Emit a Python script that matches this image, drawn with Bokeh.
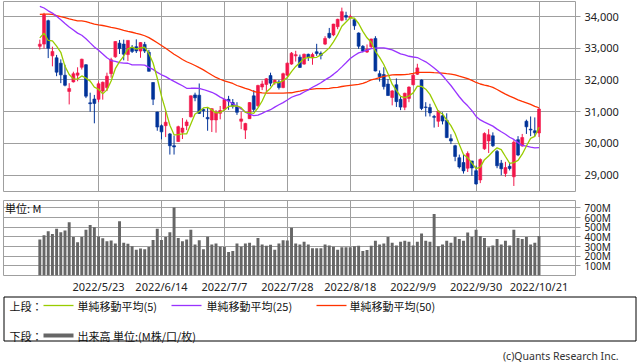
from bokeh.plotting import figure
from bokeh.models import Range1d, FixedTicker, NumeralTickFormatter, Label, ColumnDataSource
from bokeh.layouts import column
from bokeh.core.properties import value
from bokeh.embed import file_html
from bokeh.resources import INLINE

# ---- data (trading-day index 0 = 2022/5/3 ... 119 = 2022/10/21) ----
tick_idx = [14, 29, 44, 59, 74, 89, 104, 119]
tick_labels = ["2022/5/23", "2022/6/14", "2022/7/7", "2022/7/28",
               "2022/8/18", "2022/9/9", "2022/9/30", "2022/10/21"]
price_ticks = [29000, 30000, 31000, 32000, 33000, 34000]
vol_ticks = [100, 200, 300, 400, 500, 600, 700]
vol_tick_labels = ["100M", "200M", "300M", "400M", "500M", "600M", "700M"]

# closes of the 49 sessions before the first candle (moving-average history)
prior_close = [33597, 33132, 33224, 34059, 33893, 33295, 33891, 33795, 33615, 32817,
               32633, 33286, 33174, 32944, 32945, 33544, 34063, 34481, 34755, 34553,
               34807, 34359, 34708, 34861, 34956, 35294, 35229, 34678, 34818, 34922,
               34641, 34497, 34584, 34721, 34308, 34220, 34565, 34451, 34412, 34911,
               35161, 34793, 33811, 34049, 33240, 33302, 34161, 32977, 33062]

opens = [33060, 33130, 33870, 32760, 32700, 32530, 32150, 31640, 31940, 32150,
         32400, 32480, 31280, 31400, 31390, 31650, 31760, 32200, 32730, 33160,
         33130, 32800, 33030, 33050, 32910, 33120, 32870, 31920, 30990, 30560,
         30560, 30300, 29930, 30060, 30350, 30560, 30840, 31530, 31520, 31070,
         30820, 30740, 30740, 30950, 31080, 31390, 31290, 31160, 30700, 30420,
         30780, 31500, 31190, 31780, 31860, 32140, 31910, 31940, 31760, 32150,
         32500, 32760, 32720, 32500, 32810, 32700, 32890, 32840, 33130, 33470,
         33420, 33680, 33880, 34030, 33960, 33900, 33480, 33060, 32880, 33050,
         33310, 32200, 32170, 31870, 31450, 31850, 31390, 31140, 31420, 31850,
         32180, 32000, 31150, 31130, 30850, 30700, 30870, 30730, 30150, 29930,
         29550, 29400, 29220, 29450, 29140, 28850, 29830, 30080, 30240, 29750,
         29380, 29050, 29280, 28950, 30120, 29920, 30700, 30450, 30400, 30330]

highs = [33270, 34117, 33900, 33050, 32790, 32650, 32480, 31900, 32260, 32400,
         32670, 32500, 31600, 31530, 31950, 31950, 32230, 32700, 33220, 33260,
         33270, 33250, 33100, 33280, 33190, 33200, 32950, 31930, 31000, 30600,
         31000, 30330, 30250, 30560, 30800, 30750, 31510, 31600, 31890, 31100,
         31120, 31110, 31050, 31180, 31400, 31500, 31400, 31300, 31000, 30650,
         31300, 31680, 31850, 31980, 32060, 32230, 32010, 32000, 32230, 32550,
         32880, 32920, 32800, 32830, 32830, 32860, 33140, 32900, 33380, 33640,
         33770, 33930, 34280, 34150, 34060, 33930, 33500, 33100, 33120, 33300,
         33380, 32300, 32400, 32030, 31680, 32050, 31500, 31600, 31800, 32200,
         32510, 32020, 31300, 31250, 30900, 31050, 30980, 30950, 30290, 29960,
         29650, 29650, 29750, 29450, 29300, 29530, 30350, 30450, 30350, 29800,
         29480, 29420, 29400, 30100, 30230, 30300, 30750, 30850, 30820, 31120]

lows = [32960, 32990, 32690, 32430, 32120, 31900, 31800, 31230, 31920, 31960,
        32330, 31430, 31000, 30635, 31300, 31380, 31650, 32070, 32700, 32820,
        32620, 32600, 32850, 32850, 32700, 32850, 32270, 31210, 30400, 30130,
        30200, 29650, 29650, 30050, 30140, 30420, 30820, 31330, 30930, 30830,
        30400, 30360, 30340, 30760, 31040, 31060, 31100, 30900, 30450, 30140,
        30780, 31000, 31150, 31680, 31600, 31800, 31850, 31700, 31740, 32100,
        32480, 32580, 32380, 32480, 32600, 32480, 32760, 32650, 33100, 33300,
        33380, 33600, 33850, 33880, 33940, 33580, 32980, 32870, 32850, 32990,
        32270, 31950, 31700, 31500, 31200, 31150, 31050, 31050, 31300, 31830,
        32160, 31050, 30850, 30850, 30500, 30520, 30600, 30170, 29980, 29440,
        29210, 29050, 29100, 28980, 28700, 28750, 29800, 29700, 29890, 29220,
        29000, 28950, 29150, 28660, 29600, 29900, 30300, 30230, 30230, 30200]

closes = [33129, 34061, 32998, 32899, 32246, 32161, 31834, 31730, 32197, 32223,
          32655, 31490, 31253, 31262, 31880, 31929, 32120, 32637, 33213, 32990,
          32813, 33248, 32900, 32916, 33180, 32911, 32273, 31393, 30517, 30365,
          30669, 29927, 29889, 30530, 30483, 30677, 31501, 31438, 30947, 31029,
          30775, 31097, 30968, 31038, 31385, 31338, 31174, 30981, 30773, 30630,
          31288, 31073, 31827, 31875, 32037, 31899, 31990, 31762, 32198, 32530,
          32845, 32798, 32396, 32813, 32727, 32803, 32833, 32774, 33310, 33337,
          33761, 33912, 34152, 33980, 33999, 33707, 33064, 32910, 32969, 33292,
          32283, 32099, 31791, 31510, 31656, 31318, 31145, 31581, 31775, 32152,
          32381, 31105, 31135, 30962, 30822, 31020, 30706, 30184, 30077, 29590,
          29261, 29135, 29684, 29226, 28726, 29491, 30316, 30274, 29927, 29297,
          29203, 29239, 29211, 30039, 29635, 30186, 30524, 30424, 30334, 31083]

volume_m = [372, 417, 459, 430, 484, 449, 465, 551, 398, 344,
            398, 475, 523, 500, 404, 385, 356, 362, 331, 561,
            340, 328, 302, 267, 280, 273, 296, 369, 484, 369,
            398, 449, 705, 388, 356, 372, 475, 321, 366, 273,
            401, 321, 331, 299, 296, 244, 254, 331, 299, 331,
            340, 312, 388, 321, 309, 318, 267, 331, 366, 362,
            494, 331, 321, 350, 321, 283, 283, 283, 321, 312,
            299, 267, 292, 292, 292, 302, 308, 254, 264, 308,
            360, 321, 331, 398, 340, 312, 350, 360, 350, 312,
            350, 436, 360, 350, 638, 302, 321, 360, 340, 398,
            379, 360, 446, 398, 475, 408, 388, 292, 312, 379,
            321, 360, 312, 475, 388, 379, 398, 321, 340, 408]

ma_periods = [5, 25, 50]
ma_colors = ["#99CC00", "#9933FF", "#FF3300"]
ma_names = ["単純移動平均(5)", "単純移動平均(25)", "単純移動平均(50)"]

UP = "#F2164A"
DOWN = "#003399"
GRID = "#9F9F9F"
FONT = "Noto Sans"
JFONT = "Noto Sans CJK JP"

n = len(closes)
idx = list(range(n))
all_close = prior_close + closes
off = len(prior_close)


def sma(period):
    out = []
    for i in range(n):
        j = off + i
        win = all_close[j - period + 1:j + 1]
        out.append(sum(win) / len(win))
    return out


colors = [UP if c >= o else DOWN for o, c in zip(opens, closes)]
src = ColumnDataSource(dict(
    x=idx, o=opens, h=highs, l=lows, c=closes,
    top=[max(o, c) for o, c in zip(opens, closes)],
    bot=[min(o, c) for o, c in zip(opens, closes)],
    color=colors, vol=volume_m))

xr = Range1d(-8.66, 127.7)

# ---------------- price panel ----------------
p1 = figure(width=638, height=192, x_range=xr, y_range=Range1d(28486, 34473),
            output_backend="svg", toolbar_location=None,
            x_axis_location=None, y_axis_location="right",
            min_border_left=3, min_border_right=63, min_border_top=1, min_border_bottom=1)
p1.outline_line_color = GRID
p1.outline_line_width = 1
p1.xgrid.ticker = FixedTicker(ticks=tick_idx)
p1.ygrid.ticker = FixedTicker(ticks=price_ticks)
for g in p1.grid:
    g.grid_line_color = GRID
    g.grid_line_width = 1
ax = p1.yaxis[0]
ax.ticker = FixedTicker(ticks=price_ticks)
ax.formatter = NumeralTickFormatter(format="0,0")
ax.major_label_text_font = FONT
ax.major_label_text_font_size = "11px"
ax.major_label_text_color = "#222222"
ax.major_tick_out = 5
ax.major_tick_in = 0
ax.minor_tick_out = 0
ax.minor_tick_in = 0
ax.major_tick_line_color = GRID
ax.axis_line_color = None
ax.major_label_standoff = 4

p1.segment(x0="x", y0="l", x1="x", y1="h", color="color", line_width=1, source=src)
p1.vbar(x="x", top="top", bottom="bot", width=0.7, fill_color="color",
        line_color="color", line_width=0.6, source=src)
for per, col in reversed(list(zip(ma_periods, ma_colors))):
    p1.line(idx, sma(per), line_color=col, line_width=1.3)

# ---------------- volume panel ----------------
p2 = figure(width=638, height=104, x_range=xr, y_range=Range1d(0, 777),
            output_backend="svg", toolbar_location=None,
            y_axis_location="right",
            min_border_left=3, min_border_right=63, min_border_top=8, min_border_bottom=15)
p2.outline_line_color = GRID
p2.xgrid.ticker = FixedTicker(ticks=tick_idx)
p2.ygrid.ticker = FixedTicker(ticks=vol_ticks)
for g in p2.grid:
    g.grid_line_color = GRID
    g.grid_line_width = 1
xa = p2.xaxis[0]
xa.ticker = FixedTicker(ticks=tick_idx)
xa.major_label_overrides = {t: s for t, s in zip(tick_idx, tick_labels)}
xa.major_label_text_font = FONT
xa.major_label_text_font_size = "11px"
xa.major_label_text_color = "#222222"
xa.major_tick_out = 0
xa.major_tick_in = 0
xa.minor_tick_out = 0
xa.minor_tick_in = 0
xa.axis_line_color = None
xa.major_label_standoff = 3
ya = p2.yaxis[0]
ya.ticker = FixedTicker(ticks=vol_ticks)
ya.major_label_overrides = {t: s for t, s in zip(vol_ticks, vol_tick_labels)}
ya.major_label_text_font = FONT
ya.major_label_text_font_size = "10px"
ya.major_label_text_color = "#222222"
ya.major_tick_out = 5
ya.major_tick_in = 0
ya.minor_tick_out = 0
ya.minor_tick_in = 0
ya.major_tick_line_color = GRID
ya.axis_line_color = None
ya.major_label_standoff = 4

p2.vbar(x="x", top="vol", width=0.7, fill_color="#666666", line_color=None, source=src)
p2.add_layout(Label(x=-8.3, y=700, text="単位: M", text_font=JFONT,
                    text_font_size="11px", text_baseline="middle", text_color="#111111"))

# ---------------- legend / footer ----------------
# the column aligns this frame with the panels above (x 3..575), so data x = page px
p3 = figure(width=638, height=66, x_range=Range1d(3, 575), y_range=Range1d(66, 0),
            output_backend="svg", toolbar_location=None,
            x_axis_location=None, y_axis_location=None,
            min_border_left=3, min_border_right=63, min_border_top=0, min_border_bottom=0,
            outline_line_color=None)
p3.grid.visible = False
p3.quad(left=3.5, right=635.5, top=0.5, bottom=44.5, fill_color="white",
        line_color="black", line_width=1, level="overlay")
row1 = 9
row2 = 39
p3.text(x=[9, 9], y=[row1, row2], text=["上段：", "下段："], text_font=value(JFONT),
        text_font_size="11px", text_baseline="middle", text_color="#111111",
        level="overlay")
lx0 = [43, 171, 316]
tx = [77, 206, 349]
for x0, t, name, col in zip(lx0, tx, ma_names, ma_colors):
    p3.line([x0, x0 + 30], [row1, row1], line_color=col, line_width=1.3, level="overlay")
    p3.text(x=[t], y=[row1], text=[name], text_font=value(JFONT),
            text_font_size="11px", text_baseline="middle", text_color="#111111",
            level="overlay")
p3.line([43, 73], [row2, row2], line_color="#666666", line_width=4, level="overlay")
p3.text(x=[77], y=[row2], text=["出来高 単位:(M株/口/枚)"], text_font=value(JFONT),
        text_font_size="11px", text_baseline="middle", text_color="#111111",
        level="overlay")
p3.text(x=[618], y=[59], text=["(c)Quants Research Inc."], text_font=value(FONT),
        text_font_size="10.5px", text_baseline="middle", text_align="right",
        text_color="#333333", level="overlay")

layout = column(p1, p2, p3, spacing=0)

open("out.html", "w").write(file_html(layout, INLINE))
